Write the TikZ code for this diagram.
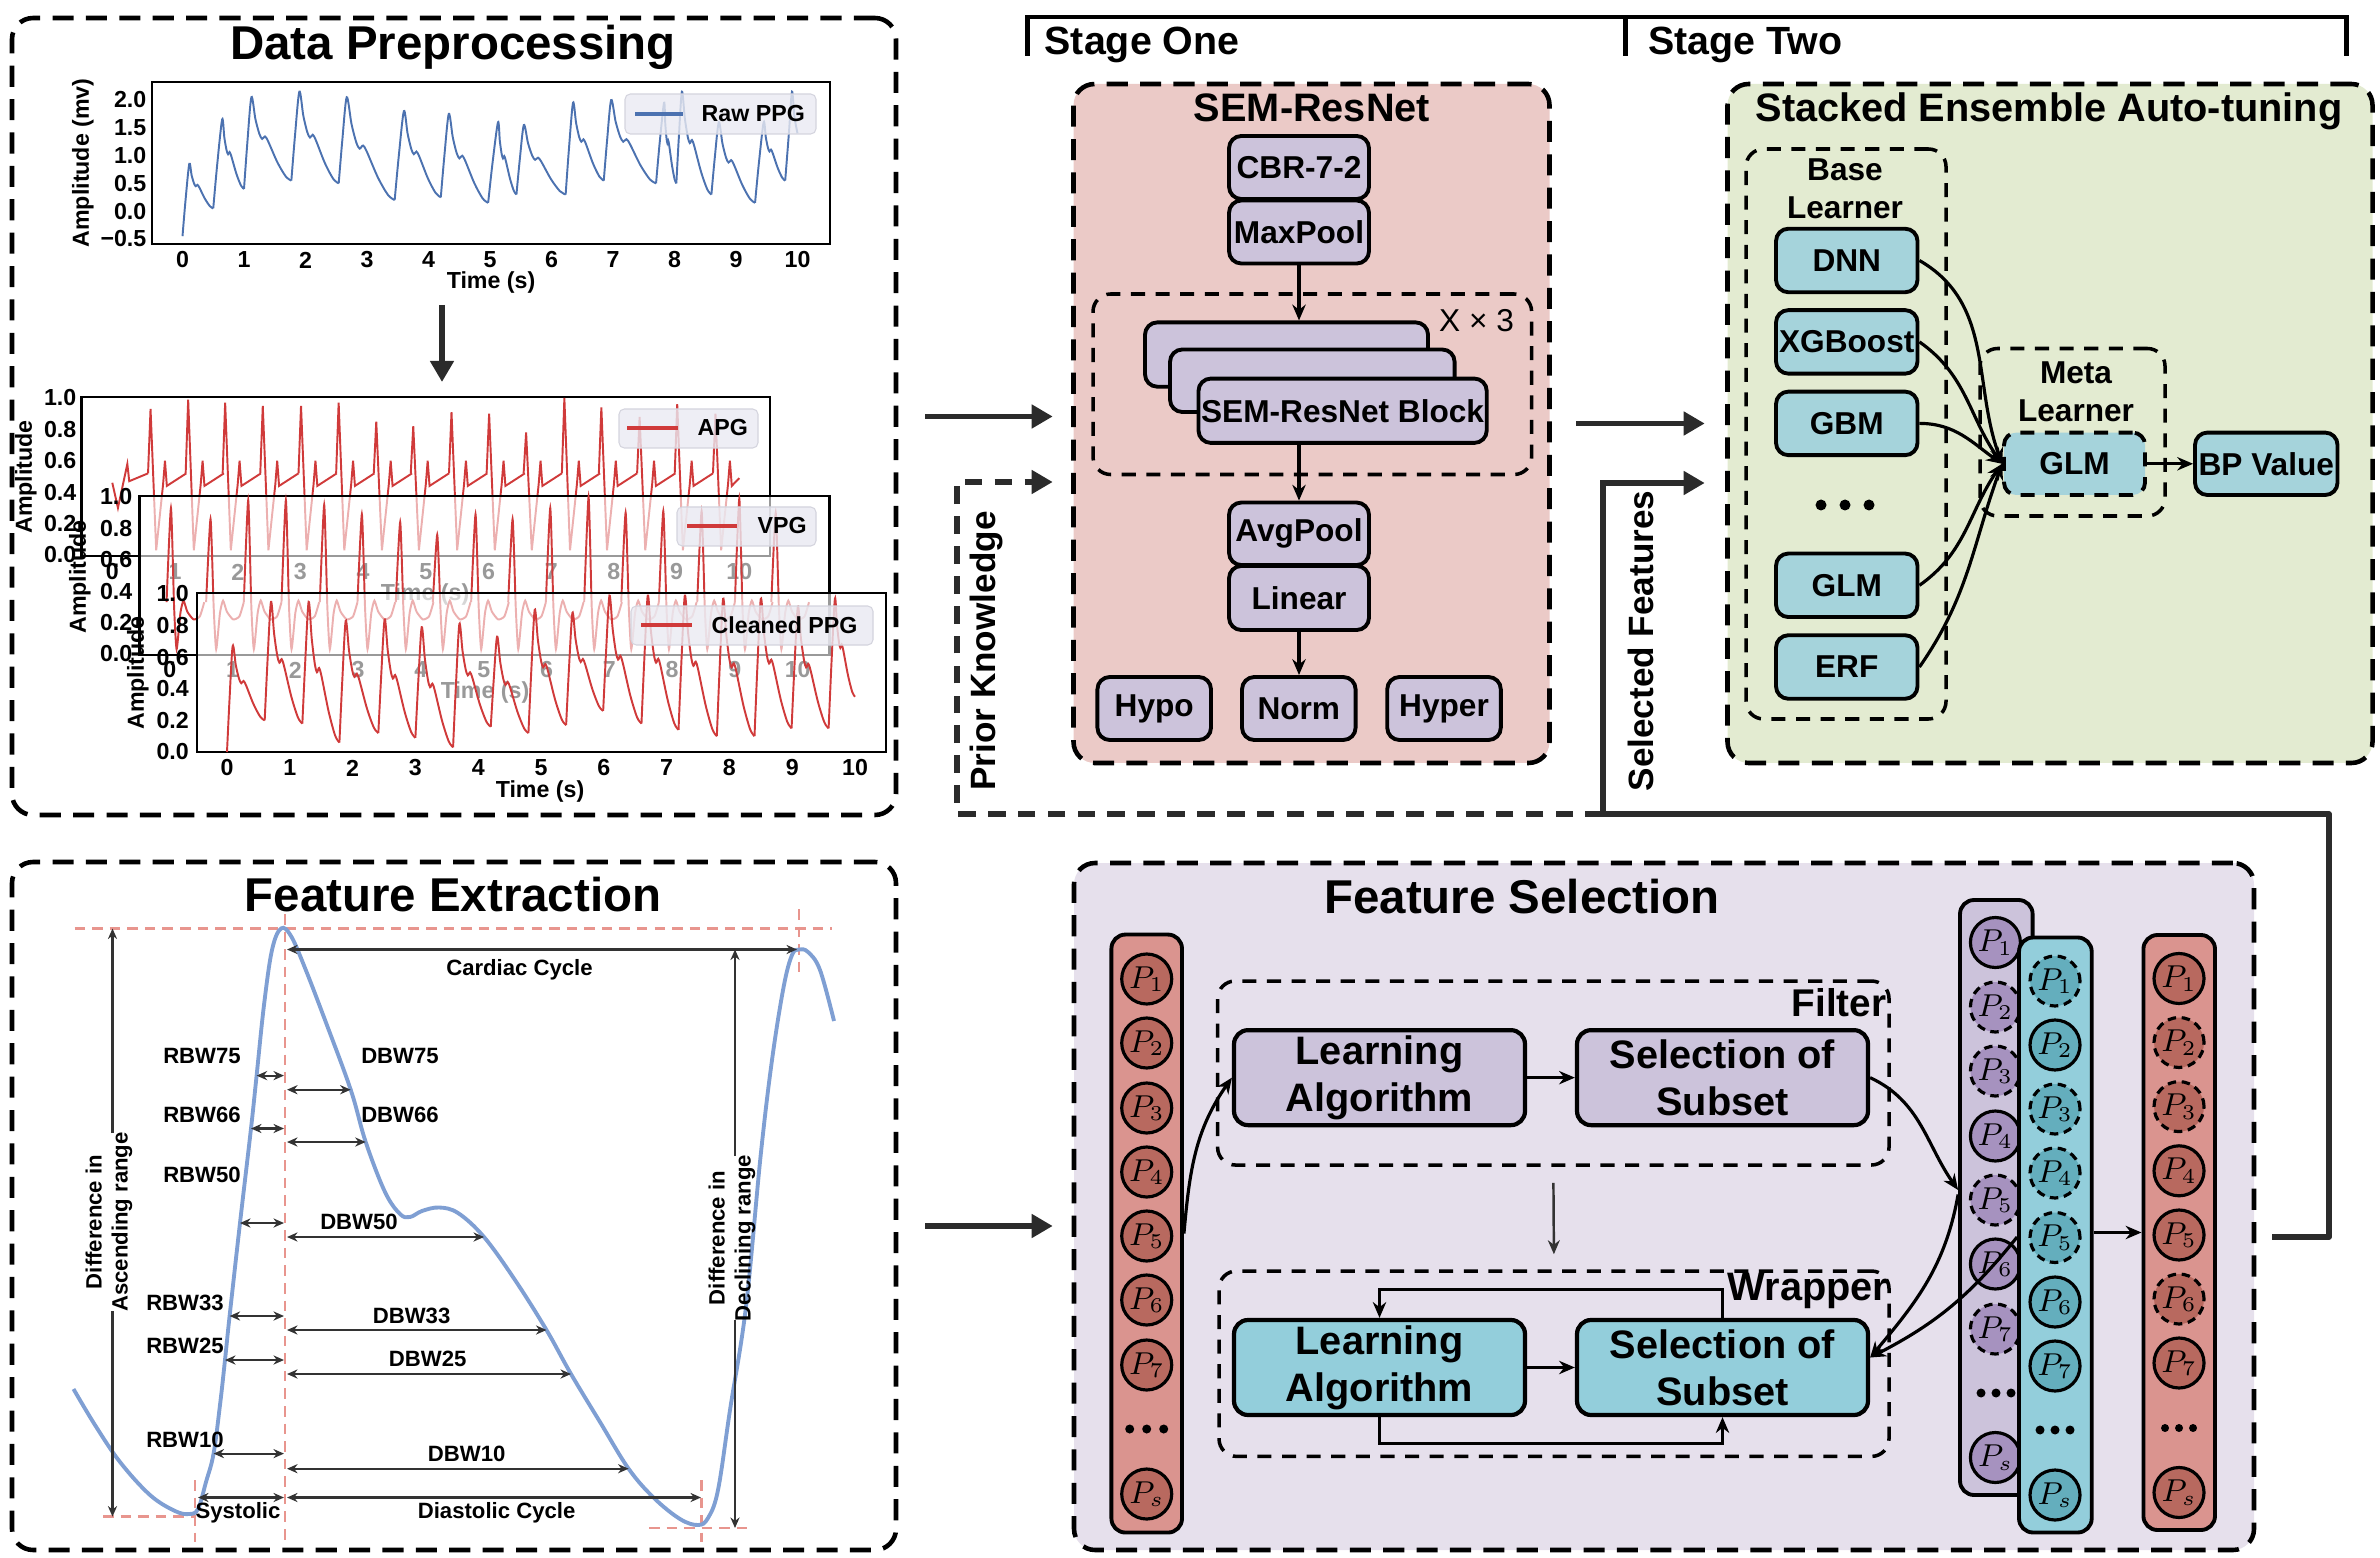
\documentclass[tikz,border=0pt]{standalone}
\usepackage{fontspec}
\setmainfont{Liberation Sans}
\usetikzlibrary{arrows.meta,calc}
\definecolor{ppgblue}{HTML}{4C72B0}
\definecolor{ppgred}{HTML}{D03A3A}
\definecolor{legbg}{HTML}{EAEAF2}
\definecolor{legbd}{HTML}{D4D4DE}
\definecolor{feblue}{HTML}{7F9FD3}
\definecolor{dashred}{HTML}{E8958E}
\definecolor{sembg}{HTML}{EBCAC7}
\definecolor{stkbg}{HTML}{E3EBD1}
\definecolor{fsbg}{HTML}{E6E0EC}
\definecolor{purp}{HTML}{CCC3DB}
\definecolor{tealA}{HTML}{A5D3DB}
\definecolor{tealB}{HTML}{93CEDB}
\definecolor{redcol}{HTML}{DA948F}
\definecolor{redcir}{HTML}{B8695F}
\definecolor{purcir}{HTML}{A692BF}
\definecolor{tealcir}{HTML}{64AEBD}
\definecolor{arrg}{HTML}{2B2B2B}
\definecolor{annot}{HTML}{333333}

\newcommand\ppgbeat[6]{%
  \draw[sig] plot[smooth,tension=0.5] coordinates {
    ({#1},{#4})
    ({(#1)+0.45*((#2)-(#1))},{(#4)+0.5*((#5)-(#4))})
    ({#2},{#5})
    ({(#2)+0.1*((#3)-(#2))},{(#6)+0.74*((#5)-(#6))})
    ({(#2)+0.2*((#3)-(#2))},{(#6)+0.56*((#5)-(#6))})
    ({(#2)+0.27*((#3)-(#2))},{(#6)+0.5*((#5)-(#6))})
    ({(#2)+0.34*((#3)-(#2))},{(#6)+0.53*((#5)-(#6))})
    ({(#2)+0.42*((#3)-(#2))},{(#6)+0.47*((#5)-(#6))})
    ({(#2)+0.65*((#3)-(#2))},{(#6)+0.22*((#5)-(#6))})
    ({(#2)+0.86*((#3)-(#2))},{(#6)+0.05*((#5)-(#6))})
    ({#3},{#6})
  };}

\tikzset{
 bigbox/.style={draw=black, line width=1.3pt, dash pattern=on 6pt off 3.5pt, rounded corners=6pt, inner sep=0pt},
 inbox/.style={draw=black, line width=1pt, dash pattern=on 4pt off 3pt, rounded corners=5pt, inner sep=0pt},
 rbox/.style={draw=black, line width=1.1pt, rounded corners=3.5pt, inner sep=0pt, font=\fontsize{9}{10}\selectfont\bfseries},
 ttl/.style={font=\fontsize{13.5}{15}\selectfont\bfseries, inner sep=0pt},
 sttl/.style={font=\fontsize{11.3}{13}\selectfont\bfseries, inner sep=0pt},
 lbl/.style={font=\fontsize{9}{10.8}\selectfont\bfseries, inner sep=0pt, align=center},
 ax/.style={font=\fontsize{6.6}{7.5}\selectfont\bfseries, inner sep=0pt},
 fel/.style={font=\fontsize{6.3}{7.4}\selectfont\bfseries, inner sep=0pt},
 tarr/.style={draw=black, line width=0.9pt, -{Stealth[length=4.5pt,width=3.8pt]}},
 bigarr/.style={draw=arrg, line width=1.5pt, -{Triangle[length=6pt,width=6.5pt]}},
 bigline/.style={draw=arrg, line width=1.5pt},
 fearr/.style={draw=annot, line width=0.6pt, {Stealth[length=3pt,width=2.6pt]}-{Stealth[length=3pt,width=2.6pt]}},
 feone/.style={draw=annot, line width=0.6pt, -{Stealth[length=3pt,width=2.6pt]}},
 redash/.style={draw=dashred, line width=0.7pt, dash pattern=on 3pt off 2pt},
 frame/.style={draw=black, line width=0.8pt, inner sep=0pt},
 leg/.style={draw=legbd, line width=0.3pt, fill=legbg, fill opacity=0.8, rounded corners=1.5pt, inner sep=0pt},
 cir/.style={circle, draw=black, line width=0.9pt, minimum size=5mm, inner sep=0pt, font=\fontsize{9}{9}\selectfont},
 scir/.style={},
 dcir/.style={dash pattern=on 2.4pt off 1.6pt},
 colbox/.style={draw=black, line width=1.1pt, rounded corners=4pt, inner sep=0pt},
 fsn/.style={draw=black, line width=1.2pt, rounded corners=4pt, inner sep=0pt, align=center, font=\fontsize{11.3}{13.4}\selectfont\bfseries, minimum width=29.1mm, minimum height=9.5mm},
 rot/.style={font=\fontsize{10}{12}\selectfont\bfseries, rotate=90, inner sep=0pt},
}

\begin{document}
\begin{tikzpicture}[x=0.1mm, y=-0.1mm]
\useasboundingbox (0,0) rectangle (2380,1558);

% ================= big boxes =================
\node[bigbox, minimum width=88.4mm, minimum height=79.7mm] (dp) at (454,416.5) {};
\node[bigbox, minimum width=88.4mm, minimum height=68.8mm] (fe) at (454,1206) {};
\node[bigbox, fill=sembg, minimum width=47.6mm, minimum height=67.9mm] (sem) at (1311.5,423.5) {};
\node[bigbox, fill=stkbg, minimum width=64.5mm, minimum height=67.9mm] (stk) at (2050,423.5) {};
\node[bigbox, fill=fsbg, minimum width=118mm, minimum height=68.7mm] (fs) at (1664,1206.5) {};

\node[ttl, anchor=base] (dpt) at (453,60) {Data Preprocessing};
\node[ttl, anchor=base] (fet) at (453,911) {Feature Extraction};
\node[ttl, anchor=base] (fst) at (1522,913) {Feature Selection};
\node[sttl, anchor=base] (semt) at (1312,122) {SEM-ResNet};
\node[sttl, anchor=base] (stkt) at (2049,122) {Stacked Ensemble Auto-tuning};

% ================= stage bracket =================
\draw[line width=1.4pt] (1027.5,56) -- (1027.5,17) -- (2346,17) -- (2346,56);
\draw[line width=1.4pt] (1625.5,17) -- (1625.5,56);
\node[font=\fontsize{11.2}{13}\selectfont\bfseries, anchor=base west, inner sep=0pt] (st1) at (1044,55) {Stage One};
\node[font=\fontsize{11.2}{13}\selectfont\bfseries, anchor=base west, inner sep=0pt] (st2) at (1647.5,55) {Stage Two};

% ================= Raw PPG =================
\node[frame, minimum width=67.8mm, minimum height=16.2mm] (rawax) at (491,163) {};
\begin{scope}[shift={(182.5,211.2)}, x=6.15mm, y=5.56mm, sig/.style={ppgblue, line width=0.55pt}]
\ppgbeat{0}{0.11}{0.5}{-0.45}{0.85}{0.05}
\ppgbeat{0.5}{0.645}{1.0}{0.05}{1.65}{0.4}
\ppgbeat{1.0}{1.12}{1.77}{0.4}{2.05}{0.55}
\ppgbeat{1.77}{1.9}{2.54}{0.55}{2.15}{0.5}
\ppgbeat{2.54}{2.67}{3.45}{0.5}{2.05}{0.2}
\ppgbeat{3.45}{3.6}{4.2}{0.2}{1.8}{0.25}
\ppgbeat{4.2}{4.33}{4.97}{0.25}{1.75}{0.15}
\ppgbeat{4.97}{5.13}{5.43}{0.15}{1.6}{0.3}
\ppgbeat{5.43}{5.55}{6.23}{0.3}{1.55}{0.3}
\ppgbeat{6.23}{6.35}{6.85}{0.3}{1.95}{0.55}
\ppgbeat{6.85}{6.97}{7.7}{0.55}{2.0}{0.5}
\ppgbeat{7.7}{7.83}{8.03}{0.5}{1.95}{0.5}
\ppgbeat{8.03}{8.12}{8.6}{0.5}{2.15}{0.3}
\ppgbeat{8.6}{8.72}{9.31}{0.3}{1.6}{0.15}
\ppgbeat{9.31}{9.45}{9.8}{0.15}{1.6}{0.55}
\draw[sig] plot[smooth] coordinates {(9.8,0.55) (9.86,1.4) (9.91,2.15) (9.95,1.7) (10.0,1.4)};
\end{scope}
\node[leg, minimum width=19.1mm, minimum height=4mm] (rawleg) at (720.5,114) {};
\draw[ppgblue, line width=0.9pt] (635,114) -- (683,114);
\node[ax, anchor=west] (rawlegt) at (701,114) {Raw PPG};
\foreach \v/\s [count=\i] in {2.0/2.0,1.5/1.5,1.0/1.0,0.5/0.5,0.0/0.0,-0.5/−0.5}
  \node[ax, anchor=east] (ry\i) at (147,{211.2-55.6*(\v)}) {\s};
\foreach \t [count=\i] in {0,...,10}
  \node[ax] (rx\i) at ({182.5+61.5*\t},260) {\t};
\node[ax] (rxl) at (491,283) {Time (s)};
\node[ax, rotate=90] (ryl) at (83,163) {Amplitude (mv)};

\coordinate (dwa) at (442,305);
\coordinate (dwb) at (442,382);
\draw[bigarr] (dwa) -- (dwb);

% ================= APG =================
\node[frame, minimum width=68.85mm, minimum height=15.9mm] (apgax) at (425.75,476.5) {};
\begin{scope}[shift={(112.3,555)}, x=6.27mm, y=15.7mm, sig/.style={ppgred, line width=0.55pt}]
\draw[sig] plot coordinates {(0,0.46) (0.09,0.3) (0.24,0.58) (0.27,0.47) (0.57,0.52)};
\foreach \tp/\A in {0.61/0.93,1.21/0.99,1.8/0.97,2.4/0.95,3.01/0.95,3.61/0.97,4.21/0.85,4.8/0.82,5.41/0.91,6.01/0.9,6.6/0.78,7.21/1.0,7.8/0.94,8.41/0.88,9.01/0.96}
 {\draw[sig] plot coordinates {({\tp-0.04},0.52) ({\tp},{\A}) ({\tp+0.09},0.03) ({\tp+0.2},0.45) ({\tp+0.23},0.6) ({\tp+0.26},0.44) ({\tp+0.57},0.52)};}
\draw[sig] plot coordinates {(9.58,0.52) (9.62,0.9) (9.71,0.03) (9.82,0.45) (9.85,0.6) (9.88,0.44) (10.0,0.49)};
\end{scope}
\foreach \v [count=\i] in {0.0,0.2,0.4,0.6,0.8,1.0}
  \node[ax, anchor=east] (ay\i) at (77,{555-157*\v}) {\v};
\foreach \t [count=\i] in {0,...,10}
  \node[ax] (ax\i) at ({112.3+62.7*\t},572) {\t};
\node[ax] (axl) at (425,595) {Time (s)};
\node[ax, rotate=90] (ayl) at (26,477) {Amplitude};
\node[leg, minimum width=13.9mm, minimum height=3.9mm] (apgleg) at (688.5,428.5) {};
\draw[ppgred, line width=0.9pt] (627,428) -- (678,428);
\node[ax, anchor=west] (apglegt) at (697,428) {APG};

% ================= VPG =================
\node[frame, fill=white, fill opacity=0.6, minimum width=69mm, minimum height=15.9mm] (vpgax) at (484.5,575.5) {};
\begin{scope}[shift={(169.7,654)}, x=6.28mm, y=15.7mm, sig/.style={ppgred, line width=0.55pt}]
\foreach \tp/\A in {0.02/0.93,0.65/0.86,1.25/0.98,1.85/0.98,2.46/0.95,3.06/0.89,3.67/0.84,4.26/0.76,4.87/0.89,5.46/0.86,6.06/0.93,6.67/1.0,7.26/0.9,7.86/0.91,8.47/0.91,9.07/0.99,9.65/0.9}
 {\draw[sig] plot[smooth,tension=0.35] coordinates {({\tp-0.07},0.33) ({\tp},{\A}) ({\tp+0.05},0.3) ({\tp+0.09},0.03) ({\tp+0.15},0.26) ({\tp+0.2},0.34) ({\tp+0.26},0.27) ({\tp+0.36},0.22) ({\tp+0.46},0.24) ({\tp+0.53},0.33)};}
\end{scope}
\foreach \v [count=\i] in {0.0,0.2,0.4,0.6,0.8,1.0}
  \node[ax, anchor=east] (vy\i) at (133,{654-157*\v}) {\v};
\foreach \t [count=\i] in {0,...,10}
  \node[ax] (vx\i) at ({169.7+62.8*\t},670) {\t};
\node[ax] (vxl) at (485,693) {Time (s)};
\node[ax, rotate=90] (vyl) at (80,577) {Amplitude};
\node[leg, minimum width=13.9mm, minimum height=3.9mm] (vpgleg) at (746.5,526.5) {};
\draw[ppgred, line width=0.9pt] (687,526) -- (737,526);
\node[ax, anchor=west] (vpglegt) at (757,526) {VPG};

% ================= Cleaned PPG =================
\node[frame, fill=white, fill opacity=0.6, minimum width=68.9mm, minimum height=15.9mm] (cppax) at (541.5,672.5) {};
\begin{scope}[shift={(227,752)}, x=6.28mm, y=15.8mm, sig/.style={ppgred, line width=0.55pt}]
\ppgbeat{0}{0.09}{0.6}{0.0}{0.67}{0.2}
\ppgbeat{0.6}{0.7}{1.2}{0.2}{0.95}{0.18}
\ppgbeat{1.2}{1.3}{1.79}{0.18}{0.95}{0.06}
\ppgbeat{1.79}{1.89}{2.41}{0.06}{0.83}{0.12}
\ppgbeat{2.41}{2.51}{3.0}{0.12}{0.84}{0.09}
\ppgbeat{3.0}{3.1}{3.6}{0.09}{0.79}{0.03}
\ppgbeat{3.6}{3.7}{4.2}{0.03}{0.81}{0.16}
\ppgbeat{4.2}{4.3}{4.8}{0.16}{0.73}{0.12}
\ppgbeat{4.8}{4.9}{5.4}{0.12}{0.9}{0.17}
\ppgbeat{5.4}{5.5}{5.99}{0.17}{0.88}{0.26}
\ppgbeat{5.99}{6.09}{6.6}{0.26}{0.99}{0.18}
\ppgbeat{6.6}{6.7}{7.19}{0.18}{0.99}{0.14}
\ppgbeat{7.19}{7.29}{7.8}{0.14}{0.99}{0.1}
\ppgbeat{7.8}{7.9}{8.4}{0.1}{0.97}{0.1}
\ppgbeat{8.4}{8.5}{8.99}{0.1}{0.97}{0.15}
\ppgbeat{8.99}{9.09}{9.58}{0.15}{0.92}{0.15}
\ppgbeat{9.58}{9.68}{10.0}{0.15}{0.97}{0.35}
\end{scope}
\foreach \v [count=\i] in {0.0,0.2,0.4,0.6,0.8,1.0}
  \node[ax, anchor=east] (cy\i) at (189.5,{752-158*\v}) {\v};
\foreach \t [count=\i] in {0,...,10}
  \node[ax] (cx\i) at ({227+62.8*\t},768) {\t};
\node[ax] (cxl) at (540,792) {Time (s)};
\node[ax, rotate=90] (cyl) at (138,673) {Amplitude};
\node[leg, minimum width=24.2mm, minimum height=3.9mm] (cppleg) at (752,625.5) {};
\draw[ppgred, line width=0.9pt] (641,625) -- (692,625);
\node[ax, anchor=west] (cpplegt) at (711,625) {Cleaned PPG};

% ================= Feature Extraction =================
\draw[redash] (74.6,928.5) -- (832,928.5);
\draw[redash] (285,914) -- (285,1542);
\draw[redash] (799,909) -- (799,978);
\draw[redash] (195,1480) -- (195,1542);
\draw[redash] (103,1516.6) -- (195,1516.6);
\draw[redash] (701.5,1480) -- (701.5,1542);
\draw[redash] (649,1528) -- (752,1528);
\draw[feblue, line width=1.1pt] plot[smooth, tension=0.6] coordinates {
 (73.5,1389) (95,1425) (120,1462) (150,1495) (175,1511) (189,1514) (198,1509) (206,1482)
 (213.5,1454) (220,1405) (225,1360) (229.6,1316) (240,1223) (251,1128.5) (256.6,1075.6)
 (264,1005) (272,950) (281,928.5) (291,936) (305,968) (325,1020) (350.7,1089.7) (365.7,1142)
 (385,1192) (400,1214) (410,1217) (422,1211) (439,1207.5) (458,1213) (484,1237) (515,1280)
 (546.5,1330) (571,1374) (600,1422) (628.6,1468.7) (654,1498) (680,1519) (698,1525) (708,1518)
 (718,1490) (730,1410) (746,1306.6) (760.6,1156) (772,1060) (783.6,987) (792,955) (799,949.5)
 (808,952) (820,970) (834,1021)};
\draw[fearr] (287,949.5) -- (797,949.5);
\draw[fearr] (256.6,1075.6) -- (284,1075.6);
\draw[fearr] (287,1089.7) -- (350.7,1089.7);
\draw[fearr] (251,1128.5) -- (284,1128.5);
\draw[fearr] (287,1142) -- (365.7,1142);
\draw[fearr] (240,1223) -- (284,1223);
\draw[fearr] (287,1237) -- (484,1237);
\draw[fearr] (229.6,1316) -- (284,1316);
\draw[fearr] (287,1330) -- (546.5,1330);
\draw[fearr] (225,1360) -- (284,1360);
\draw[fearr] (287,1374) -- (571,1374);
\draw[fearr] (213.5,1453.6) -- (284,1453.6);
\draw[fearr] (287,1468.7) -- (628.6,1468.7);
\draw[fearr] (198,1497.5) -- (284,1497.5);
\draw[fearr] (287,1497.5) -- (701,1497.5);
\node[fel] (cc) at (519.5,969.6) {Cardiac Cycle};
\node[fel] (r75) at (202,1055.5) {RBW75};
\node[fel] (d75) at (400,1055.5) {DBW75};
\node[fel] (r66) at (202,1115) {RBW66};
\node[fel] (d66) at (400,1115) {DBW66};
\node[fel] (r50) at (202,1175) {RBW50};
\node[fel] (d50) at (359,1222) {DBW50};
\node[fel] (r33) at (185,1303) {RBW33};
\node[fel] (d33) at (411.6,1316) {DBW33};
\node[fel] (r25) at (185,1346) {RBW25};
\node[fel] (d25) at (427.7,1359) {DBW25};
\node[fel] (r10) at (185,1440) {RBW10};
\node[fel] (d10) at (466.7,1453.6) {DBW10};
\node[fel] (sys) at (238,1513) {Systolic};
\node[fel] (dia) at (496.6,1513) {Diastolic Cycle};
\node[fel, rotate=90, align=center] (asc) at (109,1222) {Difference in\\Ascending range};
\draw[feone] (112.5,1133) -- (112.5,928.5);
\draw[feone] (112.5,1311) -- (112.5,1516.6);
\node[fel, rotate=90, align=center] (dec) at (732,1238) {Difference in\\Declining range};
\draw[feone] (735,1156) -- (735,949.5);
\draw[feone] (735,1320) -- (735,1528);

% ================= SEM-ResNet =================
\node[rbox, fill=purp, minimum width=14mm, minimum height=6.3mm] (cbr) at (1299,167.5) {CBR-7-2};
\node[rbox, fill=purp, minimum width=14mm, minimum height=6.3mm] (maxp) at (1299,232) {MaxPool};
\node[inbox, minimum width=43.86mm, minimum height=18.05mm] (x3) at (1312.3,384.25) {};
\node[font=\fontsize{9}{10}\selectfont, inner sep=0pt] (x3t) at (1476.5,321) {X × 3};
\node[rbox, fill=purp, minimum width=28.3mm, minimum height=6.43mm] (blk1) at (1286.5,354.55) {};
\node[rbox, fill=purp, minimum width=28.46mm, minimum height=6.25mm] (blk2) at (1312.3,380.75) {};
\node[rbox, fill=purp, minimum width=28.82mm, minimum height=6.43mm] (blk3) at (1342.6,410.75) {SEM-ResNet Block};
\node[rbox, fill=purp, minimum width=14mm, minimum height=6.25mm] (avg) at (1299,533.8) {AvgPool};
\node[rbox, fill=purp, minimum width=14mm, minimum height=6.4mm] (lin) at (1299,598) {Linear};
\node[rbox, fill=purp, minimum width=11.36mm, minimum height=6.3mm] (hypo) at (1154.2,708.5) {Hypo};
\node[rbox, fill=purp, minimum width=11.36mm, minimum height=6.3mm] (norm) at (1298.8,708.5) {Norm};
\node[rbox, fill=purp, minimum width=11.36mm, minimum height=6.3mm] (hyper) at (1444,708.5) {Hyper};
\draw[tarr] (maxp.south) -- (maxp.south |- blk1.north);
\draw[tarr] (blk3.south -| maxp.south) -- (avg.north);
\draw[tarr] (lin.south) -- (lin.south |- norm.north);

% ================= Stacked ensemble =================
\node[inbox, minimum width=20mm, minimum height=57mm] (base) at (1846,434) {};
\node[lbl] (baset) at (1845,189) {Base\\Learner};
\node[rbox, fill=tealA, minimum width=14.15mm, minimum height=6.35mm] (dnn) at (1846.75,260.5) {DNN};
\node[rbox, fill=tealA, minimum width=14.15mm, minimum height=6.35mm] (xgb) at (1846.75,341.9) {XGBoost};
\node[rbox, fill=tealA, minimum width=14.15mm, minimum height=6.35mm] (gbm) at (1846.75,423.4) {GBM};
\node[rbox, fill=tealA, minimum width=14.15mm, minimum height=6.35mm] (glma) at (1846.75,585.3) {GLM};
\node[rbox, fill=tealA, minimum width=14.15mm, minimum height=6.35mm] (erf) at (1846.75,667) {ERF};
\foreach \dx in {-24,0,24} \fill ({1845+\dx},505) circle (0.55mm);
\node[inbox, minimum width=18.5mm, minimum height=16.75mm] (meta) at (2072.5,432.25) {};
\node[lbl] (metat) at (2076,392) {Meta\\Learner};
\node[rbox, fill=tealA, dash pattern=on 4pt off 3pt, minimum width=14.1mm, minimum height=6.24mm] (glmb) at (2074.5,463.8) {GLM};
\node[rbox, fill=tealA, minimum width=14.25mm, minimum height=6.24mm] (bp) at (2266.25,463.8) {BP Value};
\draw[tarr] (glmb) -- (bp);
\draw[tarr] (dnn.east) to[out=-30, in=110] (glmb.west);
\draw[tarr] (xgb.east) to[out=-35, in=125] (glmb.west);
\draw[tarr] (gbm.east) to[out=0, in=145] (glmb.west);
\draw[tarr] (glma.east) to[out=35, in=-125] (glmb.west);
\draw[tarr] (erf.east) to[out=55, in=-110] (glmb.west);

% ================= Feature selection =================
\node[inbox, minimum width=67.14mm, minimum height=18.4mm] (filt) at (1553.3,1073) {};
\node[inbox, minimum width=67mm, minimum height=18.54mm] (wrap) at (1554,1363.7) {};
\node[font=\fontsize{11}{12}\selectfont\bfseries, anchor=east, inner sep=0pt] (filtl) at (1887,1003) {Filter};
\node[font=\fontsize{11.3}{12}\selectfont\bfseries, anchor=east, inner sep=0pt] (wrapl) at (1889,1291) {Wrapper};
\node[fsn, fill=purp] (la1) at (1379.5,1077.65) {Learning\\Algorithm};
\node[fsn, fill=purp] (sos1) at (1722.5,1077.65) {Selection of\\Subset};
\node[fsn, fill=tealB] (la2) at (1379.5,1367.5) {Learning\\Algorithm};
\node[fsn, fill=tealB] (sos2) at (1722.5,1367.5) {Selection of\\Subset};
\draw[tarr] (la1) -- (sos1);
\draw[tarr] (la2) -- (sos2);
\draw[tarr] (sos2.north) -- ++(0,-28) -| (la2.north);
\draw[tarr] (la2.south) -- ++(0,26) -| (sos2.south);
\draw[draw=annot, line width=0.7pt, -{Stealth[length=4pt,width=3.4pt]}, shorten <=1.6mm, shorten >=1.5mm] (filt.south) -- (wrap.north);

% left red column
\node[colbox, fill=redcol, minimum width=7.06mm, minimum height=59.8mm] (rin) at (1146.7,1233.55) {};
\foreach \y/\k [count=\i] in {979/1,1043/2,1108/3,1172/4,1236/5,1300/6,1365/7,1494/s}
  \node[cir, fill=redcir] (rin\i) at (1146.7,\y) {$P_{\k}$};
\foreach \dx in {-17,0,17} \fill ({1146.7+\dx},1429) circle (0.45mm);

% purple column
\node[colbox, fill=purp, minimum width=7.26mm, minimum height=59.5mm] (pcol) at (1996.3,1197.5) {};
\foreach \y/\k/\s [count=\i] in {942.5/1/scir,1007/2/dcir,1071/3/dcir,1136/4/scir,1200/5/dcir,1264/6/scir,1329/7/dcir,1457.5/s/scir}
  \node[cir, \s, fill=purcir] (pc\i) at (1995.4,\y) {$P_{\k}$};
\foreach \dx in {-15,0,15} \fill ({1996+\dx},1393) circle (0.45mm);

% teal column
\node[colbox, fill=tealB, minimum width=7.27mm, minimum height=59.5mm] (tcol) at (2055.35,1235) {};
\foreach \y/\k/\s [count=\i] in {981/1/dcir,1045/2/scir,1109/3/dcir,1173/4/dcir,1237.5/5/dcir,1302/6/scir,1366/7/scir,1495/s/scir}
  \node[cir, \s, fill=tealcir] (tc\i) at (2055,\y) {$P_{\k}$};
\foreach \dx in {-15,0,15} \fill ({2055+\dx},1430) circle (0.45mm);

% right red column
\node[colbox, fill=redcol, minimum width=7.16mm, minimum height=59.5mm] (rout) at (2179.2,1232.5) {};
\foreach \y/\k/\s [count=\i] in {978.5/1/scir,1042.5/2/dcir,1106.6/3/dcir,1170.8/4/scir,1235/5/scir,1299/6/dcir,1363/7/scir,1492.5/s/scir}
  \node[cir, \s, fill=redcir] (ro\i) at (2179,\y) {$P_{\k}$};
\foreach \dx in {-14,0,14} \fill ({2179+\dx},1428) circle (0.4mm);

\draw[tarr] (rin.east) to[out=85, in=235] (la1.west);
\draw[tarr] (sos1.east) to[out=-25, in=125] ([yshift=0.75mm]pcol.west);
\draw[tarr] ([yshift=0.3mm]pcol.west) to[out=-100, in=50] ([yshift=1mm]sos2.east);
\draw[tarr] ([yshift=-0.2mm]tcol.west) to[bend left=12] ([yshift=1mm]sos2.east);
\draw[tarr] (tcol.east |- rout.west) -- (rout.west);

% ================= inter-block connectors =================
\draw[bigarr, shorten <=2.7mm, shorten >=1.85mm] (dp.east) -- (dp.east -| sem.west);
\draw[bigarr, shorten <=2.45mm, shorten >=2.05mm] (sem.east) -- (sem.east -| stk.west);
\draw[bigarr, shorten <=2.7mm, shorten >=1.9mm] ([yshift=-2mm]fe.east) -- ([yshift=-2mm]fe.east -| fs.west);
\coordinate (jn) at (1603,814);
\coordinate (pk) at (957,814);
\coordinate (sf0) at (2272,1237);
\coordinate (sfa) at (2329,1237);
\coordinate (sfb) at (2329,814);
\draw[bigline, line join=round] (sf0) -- (sfa) -- (sfb) -- (jn);
\draw[bigarr, shorten >=2.05mm] (jn) |- ([yshift=-5.95mm]stk.west);
\draw[bigarr, dash pattern=on 5pt off 3.5pt, shorten >=1.85mm] (jn) -- (pk) |- ([yshift=-5.85mm]sem.west);
\node[rot] (pkt) at (986,651) {Prior Knowledge};
\node[rot] (sft) at (1640.5,641) {Selected Features};

\end{tikzpicture}
\end{document}
